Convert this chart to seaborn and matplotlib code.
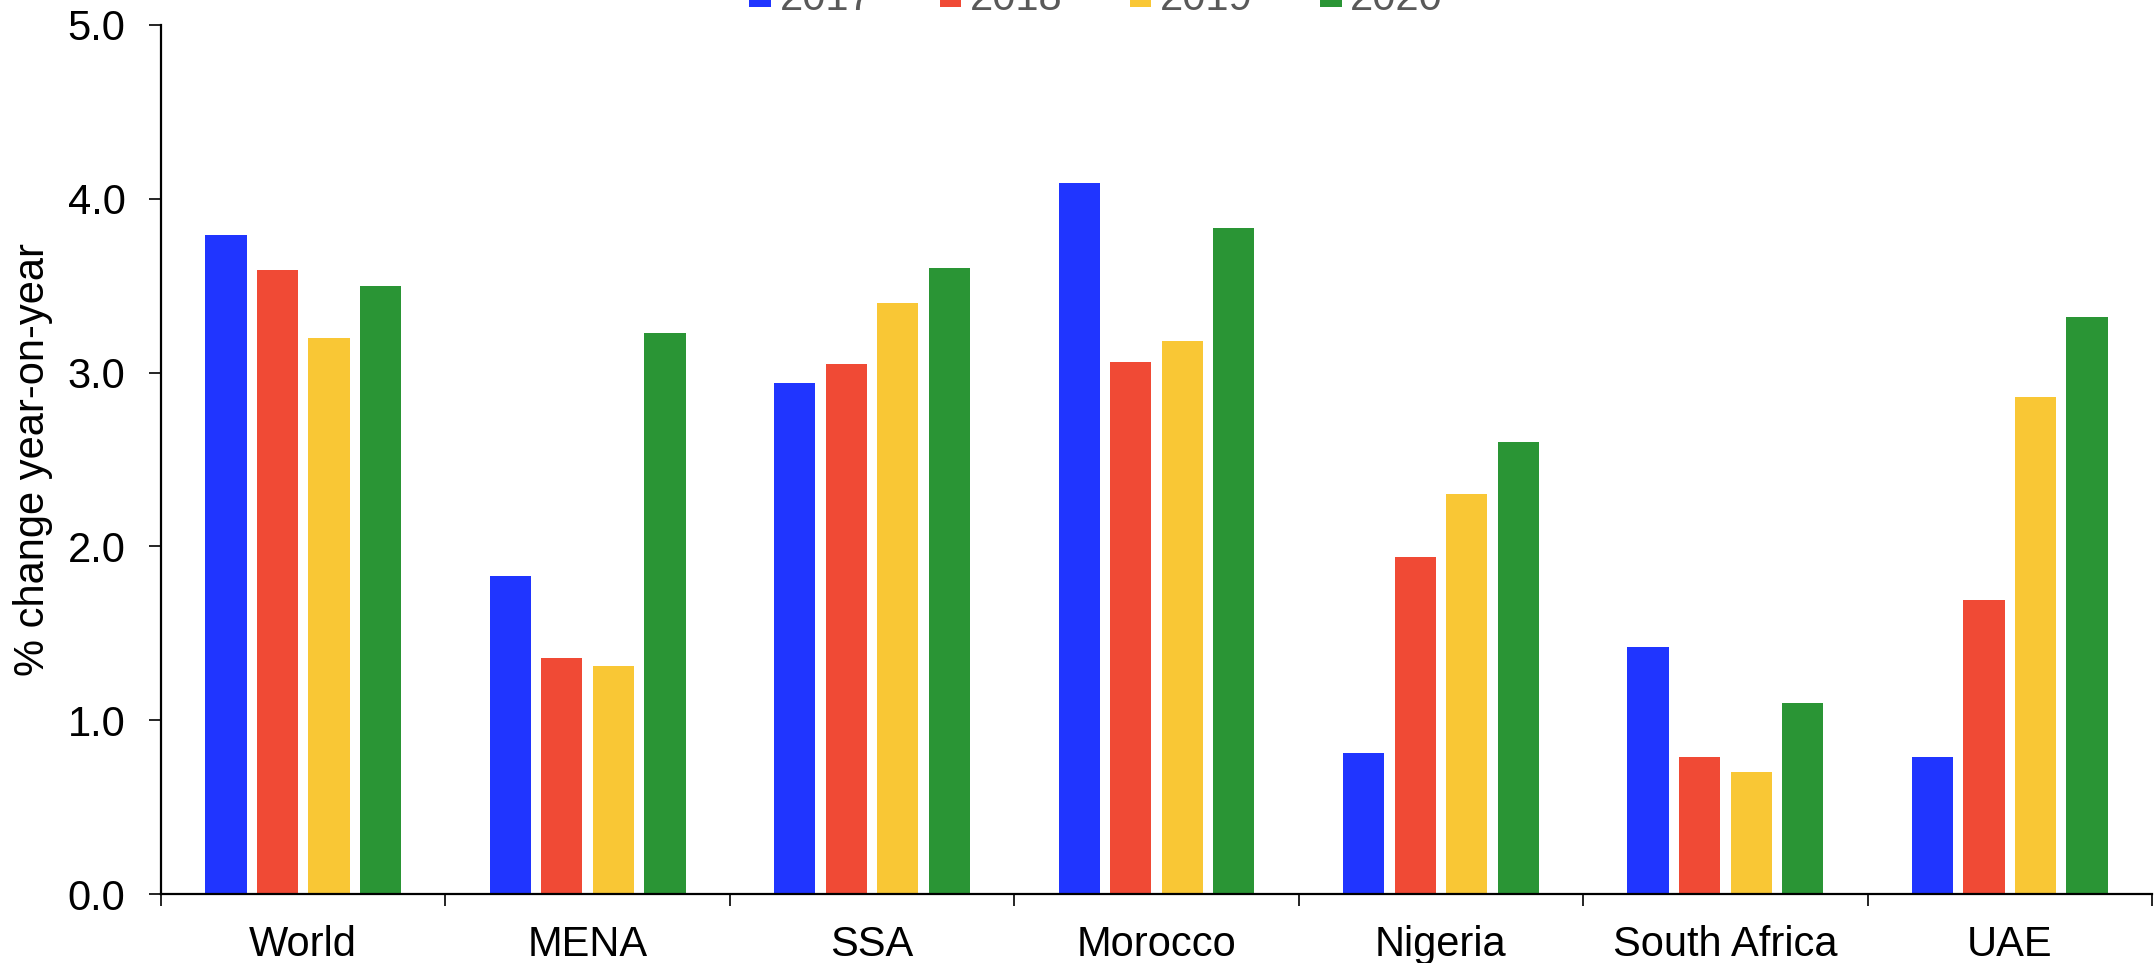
import matplotlib
matplotlib.use("Agg")
import matplotlib.pyplot as plt
import matplotlib.ticker as mticker
import numpy as np
import pandas as pd
import seaborn as sns

categories = ["World", "MENA", "SSA", "Morocco", "Nigeria", "South Africa", "UAE"]
years = ["2017", "2018", "2019", "2020"]
v2017 = [3.79, 1.83, 2.94, 4.09, 0.81, 1.42, 0.79]
v2018 = [3.59, 1.36, 3.05, 3.06, 1.94, 0.79, 1.69]
v2019 = [3.20, 1.31, 3.40, 3.18, 2.30, 0.70, 2.86]
v2020 = [3.50, 3.23, 3.60, 3.83, 2.60, 1.10, 3.32]
colors = ["#2035FF", "#F04A35", "#F9C735", "#2A9535"]
y_label = "% change year-on-year"

series = [v2017, v2018, v2019, v2020]
rows = []
for yr, vals in zip(years, series):
    for c, v in zip(categories, vals):
        rows.append({"Region": c, "Year": yr, "Value": v})
df = pd.DataFrame(rows)

sns.set_style("ticks")
plt.rcParams["font.family"] = ["Liberation Sans", "DejaVu Sans"]

fig = plt.figure(figsize=(21.56, 9.63), dpi=100)
ax = fig.add_axes([161 / 2156, 1 - 894 / 963, (2152 - 161) / 2156, (894 - 25) / 963])

sns.barplot(data=df, x="Region", y="Value", hue="Year", order=categories,
            hue_order=years, palette=colors, width=0.725, gap=0.2,
            saturation=1, edgecolor="none", linewidth=0, ax=ax, errorbar=None)

ax.set_xlim(-0.5, len(categories) - 0.5)
ax.set_ylim(0, 5)
ax.yaxis.set_major_locator(mticker.MultipleLocator(1.0))
ax.yaxis.set_major_formatter(mticker.FormatStrFormatter("%.1f"))

for s in ["top", "right"]:
    ax.spines[s].set_visible(False)
for s in ["left", "bottom"]:
    ax.spines[s].set_linewidth(1.6)
    ax.spines[s].set_color("black")

ax.set_xlabel("")
ax.set_ylabel(y_label, fontsize=30, color="black")
ax.yaxis.set_label_coords(-0.054, 0.5)

ax.tick_params(axis="y", direction="out", length=8.6, width=1.2, labelsize=30,
               pad=17, colors="black")
ax.tick_params(axis="x", which="major", length=0, labelsize=30, pad=22,
               colors="black")
ax.set_xticks(np.arange(-0.5, len(categories), 1.0), minor=True)
ax.tick_params(axis="x", which="minor", direction="out", length=8.6, width=1.2,
               color="black")

sns.move_legend(ax, loc="center", bbox_to_anchor=(1096 / 2156, 1.001),
                bbox_transform=fig.transFigure, ncol=4, frameon=False,
                title=None, fontsize=30, handlelength=0.52, handleheight=0.52,
                handletextpad=0.2, columnspacing=1.62, labelcolor="#595959")

fig.savefig("out.png", dpi=100)
